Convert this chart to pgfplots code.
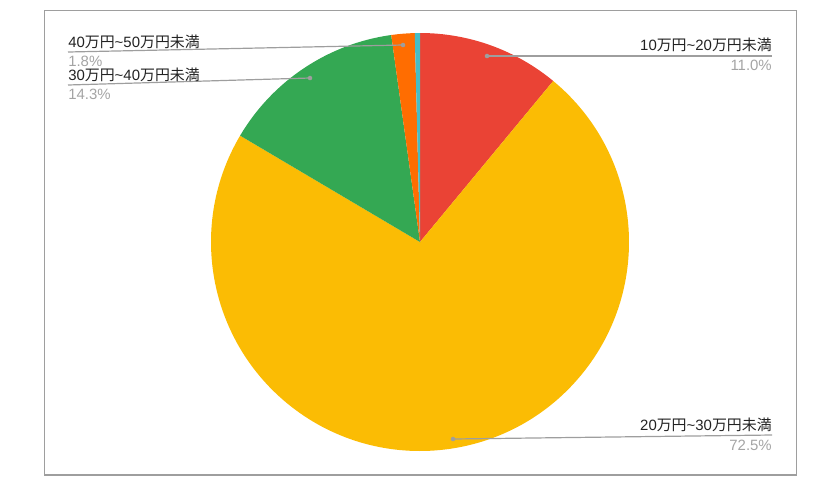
\documentclass[border=0pt]{standalone}
\usepackage{pgfplots}
\pgfplotsset{compat=1.18}
\usepackage{fontspec}
\setmainfont{Liberation Sans}
\newfontfamily\jp{Noto Sans CJK JP}

\definecolor{pRed}{HTML}{EA4335}
\definecolor{pYellow}{HTML}{FBBC04}
\definecolor{pGreen}{HTML}{34A853}
\definecolor{pOrange}{HTML}{FF6D01}
\definecolor{pTeal}{HTML}{46BDC6}
\definecolor{lineGray}{HTML}{9E9E9E}
\definecolor{pctGray}{HTML}{A4A4A4}
\definecolor{txtDark}{HTML}{222222}

% share of each band, in %
% 10-20, 20-30, 30-40, 40-50, 50+
\def\piedata{11.0/pRed,72.5/pYellow,14.3/pGreen,1.8/pOrange,0.4/pTeal}

\newcommand{\band}[2]{#1{\jp 万円}\textasciitilde#2{\jp 万円未満}}
\tikzset{
    lbl/.style={font=\fontsize{11.2}{13}\selectfont, inner sep=0pt, txtDark},
    pct/.style={font=\fontsize{11.2}{13}\selectfont, inner sep=0pt, pctGray},
}

\begin{document}
\begin{tikzpicture}
\begin{axis}[
    x=0.75pt, y=0.75pt,
    y dir=reverse,
    xmin=0, xmax=836,
    ymin=0, ymax=490,
    hide axis,
    clip=false,
]
\path (axis cs:0,0) rectangle (axis cs:836,490);
\draw[lineGray, line width=0.9pt] (axis cs:44.5,10.5) rectangle (axis cs:796.5,475);

% pie, clockwise from 12 o'clock
\pgfmathsetmacro{\R}{209*0.75}
\xdef\startang{90}
\foreach \v/\c in \piedata {
    \pgfmathsetmacro{\endang}{\startang-3.6*\v}
    \edef\temp{\noexpand\fill[\c] (axis cs:420,242) -- ++(\startang:\R pt)
        arc[start angle=\startang, end angle=\endang, radius=\R pt] -- cycle;}
    \temp
    \xdef\startang{\endang}
}

% leader lines
\draw[lineGray, line width=0.9pt] (axis cs:487,56) -- (axis cs:772,56);
\fill[lineGray] (axis cs:487,56) circle[radius=1.7pt];
\draw[lineGray, line width=0.9pt] (axis cs:453,439) -- (axis cs:772,435);
\fill[lineGray] (axis cs:453,439) circle[radius=1.7pt];
\draw[lineGray, line width=0.9pt] (axis cs:403,45) -- (axis cs:68,52);
\fill[lineGray] (axis cs:403,45) circle[radius=1.7pt];
\draw[lineGray, line width=0.9pt] (axis cs:310,78) -- (axis cs:68,85);
\fill[lineGray] (axis cs:310,78) circle[radius=1.7pt];

% labels
\node[lbl, anchor=east] at (axis cs:772,45) {\band{10}{20}};
\node[pct, anchor=east] at (axis cs:772,65) {11.0\%};
\node[lbl, anchor=east] at (axis cs:772,425) {\band{20}{30}};
\node[pct, anchor=east] at (axis cs:772,445) {72.5\%};
\node[lbl, anchor=west] at (axis cs:68,42) {\band{40}{50}};
\node[pct, anchor=west] at (axis cs:68,61) {1.8\%};
\node[lbl, anchor=west] at (axis cs:68,75) {\band{30}{40}};
\node[pct, anchor=west] at (axis cs:68,94) {14.3\%};
\end{axis}
\end{tikzpicture}
\end{document}
